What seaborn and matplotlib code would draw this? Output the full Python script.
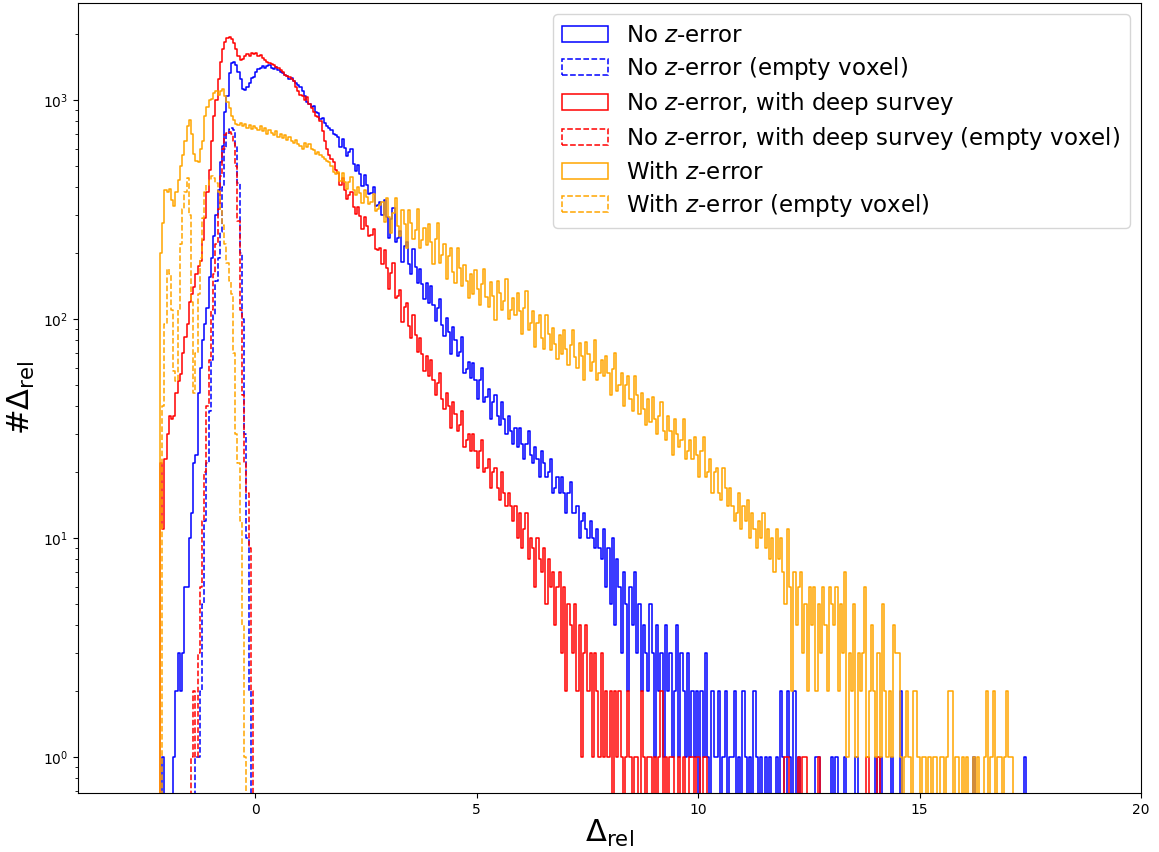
import numpy as np
import pandas as pd
import matplotlib
matplotlib.use("Agg")
import matplotlib.pyplot as plt
import seaborn as sns
from matplotlib.patches import Patch

BIN_WIDTH = 0.05

# Histogram counts per bin of width BIN_WIDTH; each series starts at its own left edge.
no_zerr_start = -2.15
no_zerr = [
    0, 1, 0, 0, 0, 0, 1, 2, 3, 2, 3, 6, 6, 10, 13, 22, 24, 46, 60, 80,
    95, 112, 155, 190, 240, 300, 390, 520, 620, 880, 1050, 1330, 1480, 1500, 1450, 1350, 1250, 1120, 1110, 1150,
    1200, 1260, 1280, 1350, 1390, 1400, 1440, 1400, 1430, 1450, 1400, 1390, 1420, 1370, 1350, 1330, 1300, 1290, 1250, 1260,
    1220, 1200, 1170, 1150, 1100, 1040, 980, 960, 930, 940, 880, 870, 820, 830, 790, 760, 750, 730, 700, 690,
    680, 614, 668, 604, 557, 582, 600, 509, 475, 508, 462, 405, 456, 412, 374, 375, 401, 329, 332, 342,
    299, 349, 292, 236, 286, 322, 226, 234, 252, 183, 215, 225, 179, 161, 210, 173, 146, 170, 145, 123,
    146, 119, 141, 116, 98, 113, 124, 94, 84, 101, 87, 69, 92, 80, 68, 71, 83, 57, 59, 64,
    54, 63, 53, 43, 53, 60, 42, 44, 48, 35, 42, 45, 36, 33, 42, 35, 30, 36, 31, 27,
    32, 26, 32, 27, 23, 27, 31, 24, 22, 26, 23, 19, 25, 22, 19, 20, 23, 16, 17, 19,
    16, 19, 16, 13, 16, 18, 13, 13, 14, 10, 12, 13, 11, 10, 12, 10, 9, 11, 9, 8,
    11, 6, 9, 5, 10, 4, 8, 6, 3, 7, 5, 2, 6, 4, 7, 3, 5, 2, 4, 3,
    2, 5, 3, 1, 4, 2, 3, 1, 4, 2, 3, 1, 2, 4, 1, 3, 2, 1, 3, 1,
    2, 1, 2, 0, 2, 1, 3, 1, 0, 2, 1, 1, 2, 0, 1, 2, 0, 1, 1, 2,
    0, 1, 0, 2, 1, 0, 1, 0, 2, 1, 0, 1, 0, 1, 0, 1, 0, 0, 1, 0,
    2, 1, 0, 2, 1, 0, 2, 0, 1, 0, 0, 0, 0, 0, 0, 0, 1, 1, 0, 0,
    0, 0, 0, 1, 0, 1, 0, 0, 0, 1, 0, 0, 0, 0, 1, 0, 0, 0, 0, 0,
    0, 0, 0, 1, 0, 1, 0, 0, 0, 0, 1, 0, 0, 0, 2, 0, 0, 0, 0, 0,
    0, 0, 0, 0, 0, 0, 0, 0, 0, 0, 0, 0, 0, 0, 0, 0, 0, 0, 0, 0,
    0, 0, 0, 0, 0, 0, 0, 1, 0, 0, 0, 0, 0, 0, 0, 0, 0, 0, 0, 0,
    0, 0, 0, 0, 0, 0, 0, 0, 0, 0, 1,
]

no_zerr_empty_start = -1.35
no_zerr_empty = [
    1, 1, 2, 5, 12, 22, 38, 65, 105, 150, 190, 250, 400, 600, 700, 740, 750, 730, 620, 420,
    200, 100, 30, 10, 2,
]

deep_start = -2.15
deep = [
    22, 11, 23, 30, 36, 35, 36, 46, 52, 56, 70, 83, 95, 120, 130, 140, 160, 175, 185, 230,
    290, 380, 480, 650, 850, 1000, 1250, 1500, 1720, 1850, 1920, 1950, 1900, 1830, 1720, 1600, 1520, 1540, 1600, 1620,
    1600, 1640, 1620, 1640, 1600, 1610, 1560, 1530, 1500, 1480, 1470, 1450, 1420, 1400, 1370, 1340, 1310, 1290, 1270, 1250,
    1220, 1150, 1100, 1060, 1040, 1000, 1030, 960, 920, 880, 850, 840, 800, 720, 650, 600, 560, 540, 520, 480,
    464, 411, 439, 390, 354, 369, 382, 326, 303, 324, 295, 259, 293, 267, 241, 242, 257, 209, 208, 212,
    179, 206, 171, 137, 163, 181, 125, 128, 136, 97, 114, 118, 93, 82, 105, 85, 71, 82, 69, 58,
    68, 55, 65, 53, 45, 51, 57, 43, 39, 46, 40, 32, 42, 37, 31, 33, 38, 26, 28, 30,
    25, 30, 25, 21, 25, 28, 20, 21, 23, 17, 20, 21, 17, 15, 20, 16, 14, 16, 14, 12,
    14, 10, 13, 9, 11, 13, 8, 10, 9, 6, 10, 8, 7, 9, 5, 8, 6, 7, 4, 6,
    7, 3, 6, 2, 5, 4, 3, 5, 2, 4, 1, 3, 4, 2, 3, 1, 3, 2, 1, 3,
    1, 2, 1, 2, 0, 2, 1, 2, 1, 0, 1, 2, 1, 0, 1, 1, 0, 2, 1, 0,
    1, 1, 0, 1, 0, 1, 2, 0, 1, 0, 1, 1, 0, 0, 1, 0, 1, 0, 0, 1,
    1, 0, 1, 1, 0, 1, 1, 0, 0, 0, 0, 0, 0, 0, 0, 0, 0, 0, 0, 0,
    0, 0, 0, 0, 0, 0, 0, 0, 0, 0, 0, 0, 0, 0, 0, 0, 0, 0, 0, 0,
    0, 0, 1, 1, 0, 0, 0, 0, 1, 0, 1, 1, 0, 0, 0, 0, 0, 1, 0, 0,
    0, 0, 0, 0, 0, 0, 0, 0, 0, 0, 0, 0, 0, 0, 0, 0, 0, 0, 0, 1,
    0, 0, 0, 0, 1,
]

deep_empty_start = -1.45
deep_empty = [
    1, 2, 1, 3, 6, 12, 20, 40, 65, 110, 160, 220, 320, 450, 600, 690, 710, 715, 700, 640,
    500, 280, 110, 45, 22, 16, 9, 2,
]

zerr_start = -2.15
zerr = [
    200, 275, 390, 380, 395, 350, 330, 380, 430, 500, 560, 650, 760, 810, 700, 570, 530, 520, 600, 650,
    850, 930, 1000, 1010, 1080, 1100, 1060, 1100, 1120, 1040, 980, 920, 850, 810, 780, 770, 790, 760, 780, 750,
    770, 740, 760, 750, 730, 760, 720, 745, 700, 730, 710, 690, 720, 680, 700, 670, 690, 660, 680, 650,
    640, 660, 630, 620, 600, 640, 610, 630, 600, 590, 570, 580, 560, 550, 540, 530, 520, 500, 470, 460,
    469, 426, 466, 424, 393, 421, 445, 388, 368, 403, 376, 338, 390, 363, 335, 344, 374, 312, 318, 332,
    344, 277, 358, 292, 248, 306, 359, 267, 241, 314, 272, 211, 316, 276, 233, 256, 320, 211, 229, 262,
    218, 273, 226, 178, 232, 274, 181, 196, 221, 152, 194, 212, 164, 147, 211, 171, 142, 177, 149, 125,
    161, 130, 168, 138, 116, 144, 169, 126, 114, 148, 128, 99, 149, 131, 110, 121, 152, 100, 110, 125,
    105, 131, 109, 86, 113, 134, 89, 96, 109, 75, 96, 105, 82, 73, 105, 86, 72, 91, 77, 66,
    85, 69, 89, 73, 62, 76, 89, 67, 60, 78, 68, 53, 79, 69, 58, 64, 80, 53, 57, 65,
    55, 68, 57, 45, 59, 70, 47, 50, 57, 40, 50, 55, 43, 38, 55, 45, 37, 46, 39, 33,
    43, 34, 44, 35, 30, 36, 42, 31, 28, 36, 31, 24, 35, 30, 26, 28, 35, 23, 25, 28,
    23, 29, 24, 19, 25, 29, 19, 20, 23, 16, 20, 21, 16, 15, 21, 17, 14, 17, 14, 12,
    13, 16, 11, 14, 12, 15, 10, 13, 11, 9, 12, 10, 13, 9, 11, 8, 10, 7, 11, 8,
    10, 7, 5, 11, 6, 2, 7, 4, 6, 7, 3, 5, 2, 6, 4, 6, 2, 5, 3, 6,
    4, 2, 6, 5, 4, 6, 2, 5, 3, 7, 1, 3, 2, 5, 1, 3, 2, 3, 6, 1,
    2, 4, 2, 1, 3, 1, 5, 2, 1, 2, 1, 4, 3, 3, 1, 0, 1, 2, 1, 0,
    2, 2, 1, 0, 1, 1, 0, 1, 0, 1, 1, 0, 1, 1, 0, 1, 2, 2, 0, 1,
    1, 0, 1, 0, 1, 0, 0, 1, 0, 1, 0, 0, 1, 2, 0, 1, 2, 0, 1, 1,
    0, 1, 2, 1, 1,
]

zerr_empty_start = -2.10
zerr_empty = [
    40, 95, 170, 160, 110, 58, 52, 110, 220, 320, 380, 440, 300, 120, 46, 70, 130, 190, 290, 380,
    410, 430, 450, 440, 420, 380, 320, 270, 220, 180, 150, 130, 70, 30, 22, 12, 4, 1,
]

series = [
    ("No $z$-error", no_zerr_start, no_zerr, "blue", "-"),
    ("No $z$-error (empty voxel)", no_zerr_empty_start, no_zerr_empty, "blue", "--"),
    ("No $z$-error, with deep survey", deep_start, deep, "red", "-"),
    ("No $z$-error, with deep survey (empty voxel)", deep_empty_start, deep_empty, "red", "--"),
    ("With $z$-error", zerr_start, zerr, "orange", "-"),
    ("With $z$-error (empty voxel)", zerr_empty_start, zerr_empty, "orange", "--"),
]

LW = 1.1

fig, ax = plt.subplots(figsize=(11.59, 8.52), dpi=100)
fig.subplots_adjust(left=0.0673, right=0.9845, bottom=0.0692, top=0.9965)

handles = []
for label, start, counts, color, ls in series:
    # empty bins on both sides so each outline rises from and returns to zero
    padded = np.concatenate([[0.0], np.asarray(counts, dtype=float), [0.0]])
    edges = (start - BIN_WIDTH) + BIN_WIDTH * np.arange(len(padded) + 1)
    frame = pd.DataFrame({"delta": 0.5 * (edges[:-1] + edges[1:]), "n": padded})
    sns.histplot(data=frame, x="delta", weights="n", bins=edges.tolist(),
                 element="step", fill=False, color=color, linestyle=ls,
                 linewidth=LW, alpha=1.0, ax=ax)
    handles.append(Patch(facecolor="none", edgecolor=color, linestyle=ls,
                         linewidth=LW, label=label))

ax.set_yscale("log")
ax.set_xlim(-4, 20)
ax.set_ylim(0.685, 2780)
ax.set_xticks([0, 5, 10, 15, 20])
ax.set_xlabel(r"$\Delta_{\rm rel}$", fontsize=22, labelpad=1)
ax.set_ylabel(r"#$\Delta_{\rm rel}$", fontsize=22)
ax.legend(handles=handles, loc="upper right", fontsize=16.5, labelspacing=0.36)

fig.savefig("out.png", dpi=100)
